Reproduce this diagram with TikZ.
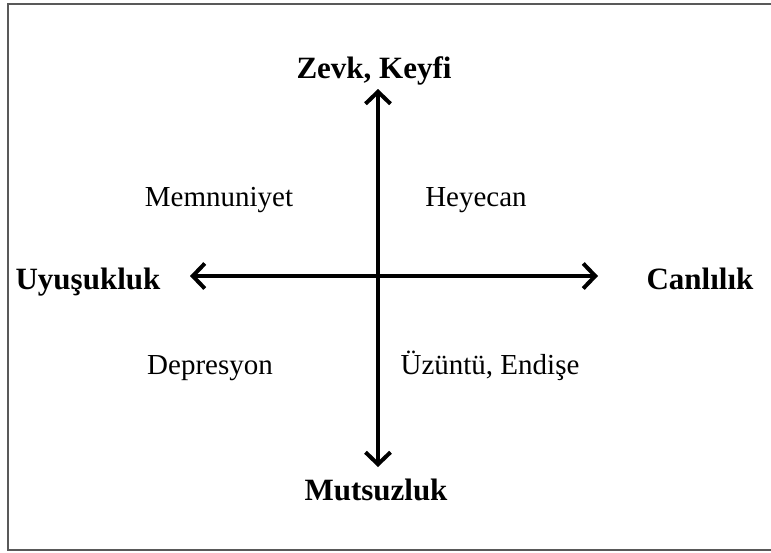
\documentclass[tikz,border=0pt]{standalone}
\usepackage{fontspec}
\setmainfont{Liberation Serif}
\usetikzlibrary{arrows.meta,positioning}

\begin{document}
\begin{tikzpicture}[x=0.5pt,y=-0.5pt,
                axis/.style={line width=2pt,
                    {Straight Barb[length=6pt,width=12.5pt]}-{Straight Barb[length=6pt,width=12.5pt]}},
                pole/.style={font=\fontsize{15.5pt}{18pt}\selectfont\bfseries,
                    inner sep=0pt,anchor=base},
                mood/.style={font=\fontsize{14.5pt}{17pt}\selectfont,
                    inner sep=0pt,anchor=base},
                frame/.style={draw=black!65,line width=1pt}]
                \useasboundingbox (0,0) rectangle (771,552);
                \draw[frame] (790,4) -- (8,4) -- (8,550) -- (790,550);
                % ends of the two axes
                \coordinate (top) at (378,89);
                \coordinate (bottom) at (378,467);
                \coordinate (left) at (190,276);
                \coordinate (right) at (598,276);
                \draw[axis] (left) -- (right);
                \draw[axis] (bottom) -- (top);
                % poles
                \node[pole] (zevk) at (374,78) {Zevk, Keyfi};
                \node[pole] (mutsuz) at (376,500) {Mutsuzluk};
                \node[pole] (uyusuk) at (88,289) {Uyuşukluk};
                \node[pole] (canli) at (700,289) {Canlılık};
                % quadrants
                \node[mood] (memnun) at (219,206) {Memnuniyet};
                \node[mood] (heyecan) at (476,206) {Heyecan};
                \node[mood] (depres) at (210,374) {Depresyon};
                \node[mood] (uzuntu) at (490,374) {Üzüntü, Endişe};
            \end{tikzpicture}
\end{document}
